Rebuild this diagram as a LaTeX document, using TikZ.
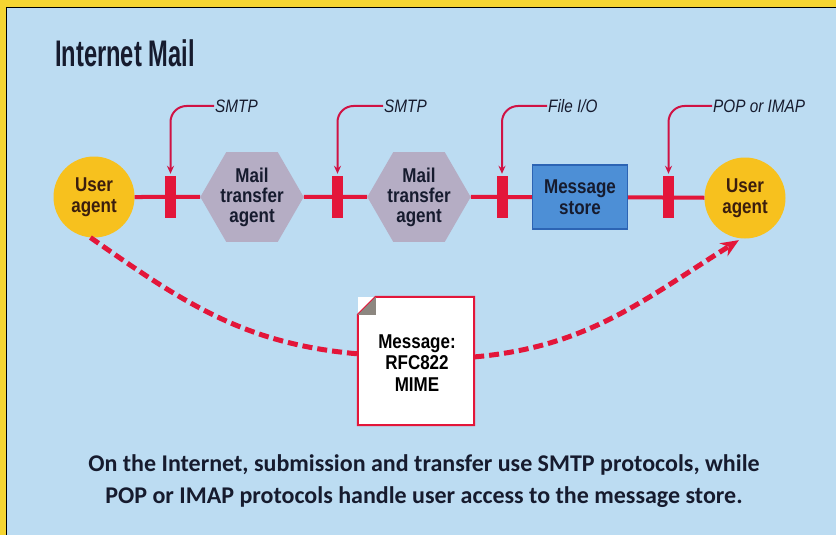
\documentclass[tikz,border=0pt]{standalone}
\usepackage{fontspec}
\setmainfont{Liberation Sans}
\newfontfamily\condfont[FakeStretch=0.85]{Liberation Sans}
\newfontfamily\titlefont[FakeStretch=0.64]{Liberation Sans}
\newfontfamily\capfont{Carlito}
\usetikzlibrary{shapes.geometric,arrows.meta}

\definecolor{frameyellow}{HTML}{F5D531}
\definecolor{panelblue}{HTML}{BCDCF2}
\definecolor{agentyellow}{HTML}{F7C11E}
\definecolor{agentbrown}{HTML}{3B1E0E}
\definecolor{hexgrey}{HTML}{B5ADC4}
\definecolor{storeblue}{HTML}{4D8FD6}
\definecolor{storeedge}{HTML}{2C64B4}
\definecolor{wirered}{HTML}{E3163A}
\definecolor{tagred}{HTML}{D01244}
\definecolor{inkblue}{HTML}{161B2E}
\definecolor{foldgrey}{HTML}{8C8780}

\begin{document}
\begin{tikzpicture}[x=1pt,y=-1pt,>=stealth]
  \tikzstyle{agent}=[circle, fill=agentyellow, minimum size=81pt, inner sep=0pt, align=center, text=agentbrown, font=\condfont\bfseries\fontsize{20}{21}\selectfont]
  \tikzstyle{mta}=[regular polygon, regular polygon sides=6, fill=hexgrey, minimum size=94pt, inner sep=0pt, align=center, text=inkblue, font=\condfont\bfseries\fontsize{20}{20}\selectfont]
  \tikzstyle{store}=[draw=storeedge, line width=1.2pt, fill=storeblue, minimum width=95pt, minimum height=64pt, align=center, text=inkblue, font=\condfont\bfseries\fontsize{20}{21}\selectfont]
  \tikzstyle{plug}=[fill=wirered, minimum width=11pt, minimum height=42pt, inner sep=0pt]
  \tikzstyle{proto}=[inner sep=1pt, text=inkblue, font=\condfont\itshape\fontsize{18}{18}\selectfont]
  \tikzstyle{wire}=[wirered, line width=4pt]
  \tikzstyle{tag}=[-{Stealth[length=8pt,width=7pt]}, tagred, line width=2pt, rounded corners=16pt, shorten >=2pt]
  \tikzstyle{msgflow}=[wirered, line width=5pt, dash pattern=on 10pt off 5pt]

  \useasboundingbox (0,0) rectangle (836,535);
  \fill[frameyellow] (0,0) rectangle (836,535);
  \fill[panelblue] (7,8) rectangle (836,535);
  \draw[black, line width=1.2pt] (6.5,535) -- (6.5,7.5) -- (836,7.5);

  \node[anchor=west, inner sep=0pt, text=inkblue, font=\titlefont\bfseries\fontsize{37}{37}\selectfont] (title) at (55,53) {Internet Mail};

  \node[agent] (ua1) at (94,197) {User\\agent};
  \node[plug] (b1) at (170.5,197) {};
  \node[mta] (mta1) at (252,197) {Mail\\transfer\\agent};
  \node[plug] (b2) at (337.5,197) {};
  \node[mta] (mta2) at (419,197) {Mail\\transfer\\agent};
  \node[plug] (b3) at (502,197) {};
  \node[store] (ms) at (580,197) {Message\\store};
  \node[plug] (b4) at (668.5,197) {};
  \node[agent] (ua2) at (745,198) {User\\agent};

  \draw[wire] (ua1) -- (mta1);
  \draw[wire] (mta1) -- (mta2);
  \draw[wire] (mta2) -- (ms);
  \draw[wire] (ms) -- (ua2);
  \node[plug] at (b1) {};
  \node[plug] at (b2) {};
  \node[plug] at (b3) {};
  \node[plug] at (b4) {};

  \node[proto, anchor=west] (p1) at (214,106) {SMTP};
  \node[proto, anchor=west] (p2) at (383,106) {SMTP};
  \node[proto, anchor=west] (p3) at (547,106) {File I/O};
  \node[proto, anchor=west] (p4) at (712,106) {POP or IMAP};

  \draw[tag] (p1.west) -| (b1.north);
  \draw[tag] (p2.west) -| (b2.north);
  \draw[tag] (p3.west) -| (b3.north);
  \draw[tag] (p4.west) -| (b4.north);

  \node[fill=white, minimum width=116pt, minimum height=128pt, inner sep=0pt] (msg) at (416,361) {};
  \draw[wirered, line width=2pt, line join=miter] ([yshift=-18pt]msg.north west) -- ([xshift=18pt]msg.north west) -- (msg.north east) -- (msg.south east) -- (msg.south west) -- cycle;
  \fill[foldgrey] ([yshift=-18pt]msg.north west) -- ([xshift=18pt]msg.north west) -- ([xshift=18pt,yshift=-18pt]msg.north west) -- cycle;
  \node[align=center, text=black, font=\condfont\bfseries\fontsize{20}{21.5}\selectfont] (msgtext) at (417,363) {Message:\\RFC822\\MIME};

  \draw[msgflow] (ua1.265) to[out=-35,in=175] (msg.173);
  \draw[msgflow, -{Stealth[length=18pt,width=15pt]}, shorten >=3pt] (msg.4) to[out=5,in=212] (ua2.265);

  \node[align=center, text=inkblue, font=\capfont\bfseries\fontsize{24}{32}\selectfont] (note) at (424,481) {On the Internet, submission and transfer use SMTP protocols, while\\POP or IMAP protocols handle user access to the message store.};
\end{tikzpicture}
\end{document}
